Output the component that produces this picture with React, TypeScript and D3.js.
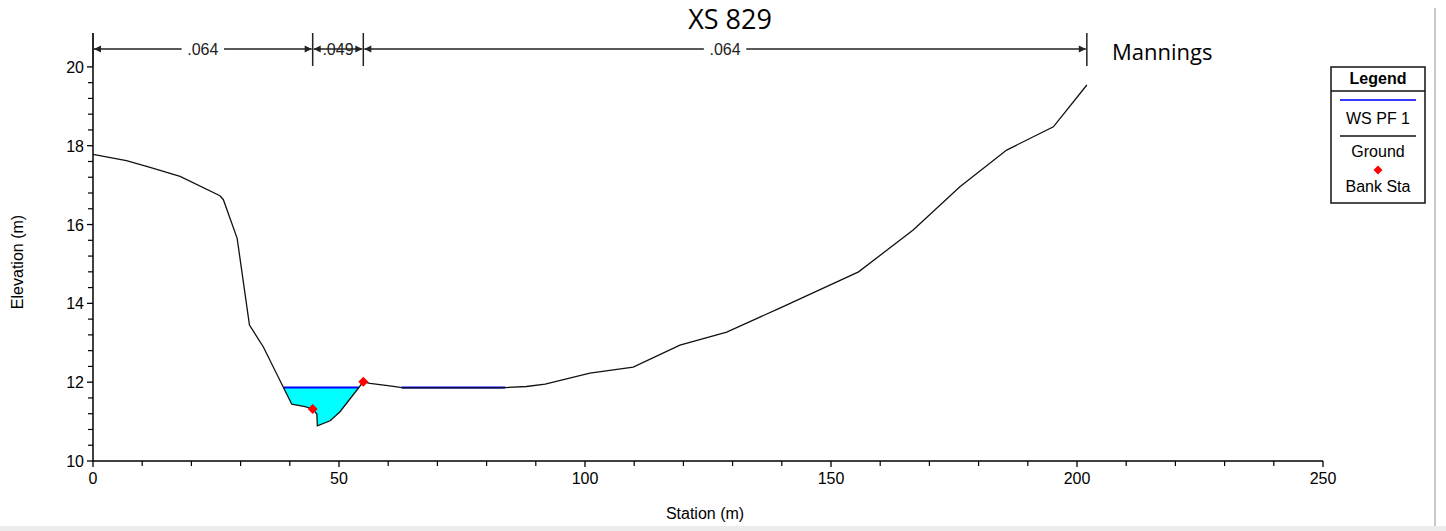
import React from "react";
import * as d3 from "d3";

// ---- Data ----
const stations = [0, 6.8, 11.6, 17.7, 25.8, 26.5, 29.3, 31.8, 34.6, 40.4, 43.1, 44.65, 45.5, 45.6, 48.2, 50.2, 54.94, 56.3, 60.7, 63.1, 82.7, 88.1, 91.9, 101, 109.8, 119.3, 128.8, 139.6, 155.6, 166.7, 176.2, 185.7, 195.2, 202];
const elevations = [17.78, 17.62, 17.45, 17.22, 16.73, 16.63, 15.65, 13.45, 12.9, 11.44, 11.38, 11.32, 11.19, 10.89, 11.02, 11.25, 12.01, 11.97, 11.9, 11.855, 11.855, 11.89, 11.95, 12.23, 12.38, 12.94, 13.27, 13.88, 14.8, 15.86, 16.96, 17.89, 18.48, 19.54];
const wsElevation = 11.862;
const bankStations = [44.65, 54.94];
const manningBreaks = [0, 44.65, 54.94, 202];
const manningValues = [".064", ".049", ".064"];
const xTickValues = [0, 50, 100, 150, 200, 250];
const yTickValues = [10, 12, 14, 16, 18, 20];
const title = "XS 829";
const legendItems = ["WS PF 1", "Ground", "Bank Sta"];

const W = 1446;
const H = 531;
const FONT = "'Liberation Sans', Arial, sans-serif";

export default function App() {
  const x = d3.scaleLinear().domain([0, 250]).range([93, 1323]);
  const y = d3.scaleLinear().domain([10, 20.86]).range([461, 33]);

  const ground: [number, number][] = stations.map((s, i) => [s, elevations[i]]);
  const groundAt = (s: number) => {
    const i = d3.bisectLeft(stations, s);
    if (stations[i] === s) return elevations[i];
    const t = (s - stations[i - 1]) / (stations[i] - stations[i - 1]);
    return elevations[i - 1] + t * (elevations[i] - elevations[i - 1]);
  };

  // wet regions where ground is below the water surface
  const regions: [number, number][][] = [];
  let cur: [number, number][] | null = null;
  for (let i = 0; i < ground.length; i++) {
    const [x0, y0] = ground[i];
    if (y0 < wsElevation) {
      if (!cur) cur = [];
      cur.push([x0, y0]);
    }
    if (i < ground.length - 1) {
      const [x1, y1] = ground[i + 1];
      if (y0 < wsElevation !== y1 < wsElevation) {
        const t = (wsElevation - y0) / (y1 - y0);
        const xc = x0 + t * (x1 - x0);
        if (!cur) cur = [[xc, wsElevation]];
        else {
          cur.push([xc, wsElevation]);
          regions.push(cur);
          cur = null;
        }
      }
    }
  }

  const line = d3
    .line<[number, number]>()
    .x((d) => x(d[0]))
    .y((d) => y(d[1]));

  const xMinor = d3.range(0, 251, 10).filter((v) => !xTickValues.includes(v));
  const yMinor = d3.range(10, 20.001, 0.4).filter((v) => !yTickValues.some((t) => Math.abs(t - v) < 1e-6));

  const diamond = (cx: number, cy: number, r: number) =>
    `M${cx},${cy - r}L${cx + r},${cy}L${cx},${cy + r}L${cx - r},${cy}Z`;

  const annY = 49;
  const annTop = 33;
  const annBot = 66;

  return (
    <svg
      width={W}
      height={H}
      viewBox={`0 0 ${W} ${H}`}
      style={{ position: "absolute", left: 0, top: 0, background: "#fff" }}
    >
      <rect x={0} y={0} width={W} height={H} fill="#fff" />
      {/* window frame */}
      <rect x={0} y={526} width={W} height={5} fill="#ececec" />
      <line x1={1435} x2={1435} y1={8} y2={526} stroke="#c8c8c8" strokeWidth={2} />

      {/* title */}
      <text x={730} y={29} textAnchor="middle" fontFamily="'Open Sans', sans-serif" fontSize={27} fill="#000">
        {title}
      </text>

      {/* water fill */}
      {regions.map((r, i) => (
        <path key={"f" + i} d={line(r) + "Z"} fill="#00ffff" stroke="none" />
      ))}
      {/* water surface lines */}
      {regions.map((r, i) => (
        <line
          key={"w" + i}
          x1={x(r[0][0])}
          x2={x(r[r.length - 1][0])}
          y1={y(wsElevation)}
          y2={y(wsElevation)}
          stroke="#0000ff"
          strokeWidth={2}
        />
      ))}
      {/* ground */}
      <path d={line(ground) || ""} fill="none" stroke="#111" strokeWidth={1.3} />
      {/* bank stations */}
      {bankStations.map((s, i) => (
        <path key={"b" + i} d={diamond(x(s), y(groundAt(s)), 5)} fill="#ff0000" />
      ))}

      {/* axes */}
      <line x1={93} x2={93} y1={33} y2={461} stroke="#000" strokeWidth={1.5} />
      <line x1={93} x2={1323} y1={461} y2={461} stroke="#000" strokeWidth={1.5} />
      {yTickValues.map((v) => (
        <g key={"yt" + v}>
          <line x1={87} x2={93} y1={y(v)} y2={y(v)} stroke="#000" strokeWidth={1.3} />
          <text x={84} y={y(v) + 6} textAnchor="end" fontFamily={FONT} fontSize={16} fill="#000">
            {v}
          </text>
        </g>
      ))}
      {yMinor.map((v, i) => (
        <line key={"ym" + i} x1={88} x2={93} y1={y(v)} y2={y(v)} stroke="#000" strokeWidth={1.2} />
      ))}
      {xTickValues.map((v) => (
        <g key={"xt" + v}>
          <line x1={x(v)} x2={x(v)} y1={461} y2={467} stroke="#000" strokeWidth={1.3} />
          <text x={x(v)} y={484} textAnchor="middle" fontFamily={FONT} fontSize={16} fill="#000">
            {v}
          </text>
        </g>
      ))}
      {xMinor.map((v) => (
        <line key={"xm" + v} x1={x(v)} x2={x(v)} y1={461} y2={466} stroke="#000" strokeWidth={1.2} />
      ))}
      <text x={705} y={519} textAnchor="middle" fontFamily={FONT} fontSize={16} fill="#000">
        Station (m)
      </text>
      <text
        transform="translate(23,262) rotate(-90)"
        textAnchor="middle"
        fontFamily={FONT}
        fontSize={16}
        fill="#000"
      >
        Elevation (m)
      </text>

      {/* Manning's n annotations */}
      {manningBreaks.map((b, i) => (
        <line key={"mb" + i} x1={x(b)} x2={x(b)} y1={annTop} y2={annBot} stroke="#222" strokeWidth={1.5} />
      ))}
      {manningValues.map((v, i) => {
        const a = x(manningBreaks[i]);
        const b = x(manningBreaks[i + 1]);
        const mid = (a + b) / 2;
        const tw = v.length * 8.6;
        return (
          <g key={"mv" + i}>
            <line x1={a + 1} x2={b - 1} y1={annY} y2={annY} stroke="#222" strokeWidth={1.4} />
            <path d={`M${a + 1},${annY}L${a + 8},${annY - 3.5}L${a + 8},${annY + 3.5}Z`} fill="#222" />
            <path d={`M${b - 1},${annY}L${b - 8},${annY - 3.5}L${b - 8},${annY + 3.5}Z`} fill="#222" />
            <rect x={mid - tw / 2 - 4} y={annY - 9} width={tw + 8} height={18} fill="#fff" opacity={b - a > 80 ? 1 : 0} />
            <text x={mid} y={annY + 6} textAnchor="middle" fontFamily={FONT} fontSize={16} fill="#222">
              {v}
            </text>
          </g>
        );
      })}
      <text x={1112} y={60} fontFamily="'Open Sans', sans-serif" fontSize={22} fill="#000">
        Mannings
      </text>

      {/* legend */}
      <rect x={1331} y={67} width={94} height={136} fill="#fff" stroke="#111" strokeWidth={1.5} />
      <line x1={1331} x2={1425} y1={91} y2={91} stroke="#111" strokeWidth={1.3} />
      <text x={1378} y={84} textAnchor="middle" fontFamily={FONT} fontSize={16} fontWeight="bold" fill="#000">
        Legend
      </text>
      <line x1={1340} x2={1416} y1={100} y2={100} stroke="#3838ff" strokeWidth={2} />
      <text x={1378} y={124} textAnchor="middle" fontFamily={FONT} fontSize={16} fill="#000">
        {legendItems[0]}
      </text>
      <line x1={1340} x2={1416} y1={136} y2={136} stroke="#111" strokeWidth={1.5} />
      <text x={1378} y={157} textAnchor="middle" fontFamily={FONT} fontSize={16} fill="#000">
        {legendItems[1]}
      </text>
      <path d={diamond(1378, 170, 4.5)} fill="#ff0000" />
      <text x={1378} y={192} textAnchor="middle" fontFamily={FONT} fontSize={16} fill="#000">
        {legendItems[2]}
      </text>
    </svg>
  );
}
